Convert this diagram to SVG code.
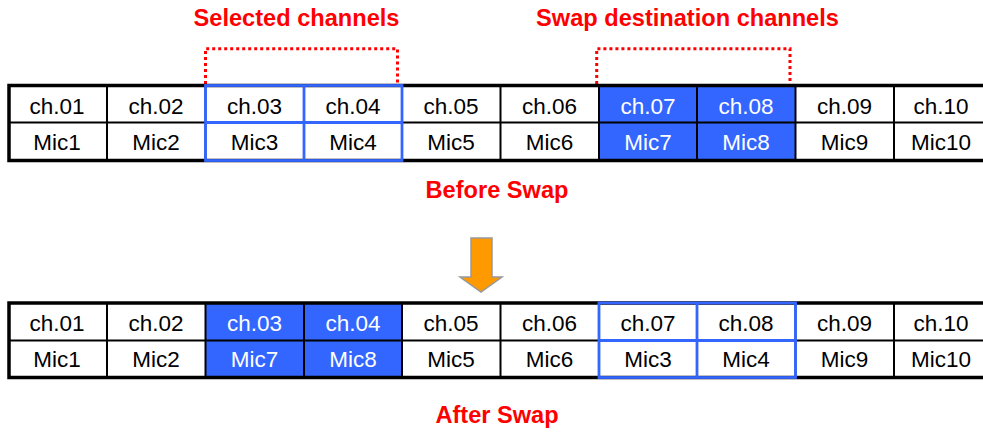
<svg xmlns="http://www.w3.org/2000/svg" width="983" height="432" viewBox="0 0 983 432">
<style>
.t{font-family:"Liberation Sans",Arial,sans-serif;font-size:22.5px;text-anchor:middle;fill:#000}
.w{fill:#fff}
.h{font-family:"Liberation Sans",Arial,sans-serif;font-size:23.6px;font-weight:bold;text-anchor:middle;fill:#ff0000}
.grid{stroke:#000;stroke-width:2;fill:none}
.outer{stroke:#000;stroke-width:3.5;fill:none}
.blue{stroke:#3366ff;stroke-width:2.8;fill:none}
.fill{fill:#3366ff}
.dot{stroke:#ff0000;stroke-width:3;stroke-dasharray:3 3;fill:none}
</style>
<rect width="983" height="432" fill="#fff"/>

<g id="labels">
<text class="h" x="296.5" y="26">Selected channels</text>
<text class="h" x="687.5" y="26">Swap destination channels</text>
<text class="h" x="497" y="198">Before Swap</text>
<text class="h" x="497" y="423">After Swap</text>
</g>

<g id="brackets">
<polyline class="dot" points="205.5,84 205.5,48.7 397.5,48.7 397.5,84"/>
<polyline class="dot" points="596.7,84 596.7,48.7 790,48.7 790,84"/>
</g>

<g id="table-before">
<rect class="fill" x="599" y="85.5" width="196.5" height="75"/>
<g class="grid">
<line x1="9" y1="122.5" x2="992" y2="122.5"/>
<line x1="107" y1="85.5" x2="107" y2="160.5"/>
<line x1="205.5" y1="85.5" x2="205.5" y2="160.5"/>
<line x1="304" y1="85.5" x2="304" y2="160.5"/>
<line x1="402" y1="85.5" x2="402" y2="160.5"/>
<line x1="500.5" y1="85.5" x2="500.5" y2="160.5"/>
<line x1="599" y1="85.5" x2="599" y2="160.5"/>
<line x1="697" y1="85.5" x2="697" y2="160.5"/>
<line x1="795.5" y1="85.5" x2="795.5" y2="160.5"/>
<line x1="894" y1="85.5" x2="894" y2="160.5"/>
</g>
<rect class="outer" x="9" y="85.5" width="990" height="75"/>
<g class="blue">
<rect x="205.5" y="85.5" width="196.5" height="75"/>
<line x1="304" y1="85.5" x2="304" y2="160.5"/>
<line x1="205.5" y1="122.5" x2="402" y2="122.5"/>
</g>
<g id="b-ch01"><text class="t" x="57" y="114">ch.01</text><text class="t" x="57" y="150">Mic1</text></g>
<g id="b-ch02"><text class="t" x="156" y="114">ch.02</text><text class="t" x="156" y="150">Mic2</text></g>
<g id="b-ch03"><text class="t" x="254.5" y="114">ch.03</text><text class="t" x="254.5" y="150">Mic3</text></g>
<g id="b-ch04"><text class="t" x="353" y="114">ch.04</text><text class="t" x="353" y="150">Mic4</text></g>
<g id="b-ch05"><text class="t" x="451" y="114">ch.05</text><text class="t" x="451" y="150">Mic5</text></g>
<g id="b-ch06"><text class="t" x="549.5" y="114">ch.06</text><text class="t" x="549.5" y="150">Mic6</text></g>
<g id="b-ch07"><text class="t w" x="648" y="114">ch.07</text><text class="t w" x="648" y="150">Mic7</text></g>
<g id="b-ch08"><text class="t w" x="746" y="114">ch.08</text><text class="t w" x="746" y="150">Mic8</text></g>
<g id="b-ch09"><text class="t" x="844.5" y="114">ch.09</text><text class="t" x="844.5" y="150">Mic9</text></g>
<g id="b-ch10"><text class="t" x="941" y="114">ch.10</text><text class="t" x="941" y="150">Mic10</text></g>
</g>

<g id="arrow">
<polygon points="471,238 492,238 492,277 502,277 481,292 460,277 471,277" fill="#ff9900" stroke="#999" stroke-width="1.5"/>
</g>

<g id="table-after">
<rect class="fill" x="205.5" y="303" width="196.5" height="74.5"/>
<g class="grid">
<line x1="9" y1="340.5" x2="992" y2="340.5"/>
<line x1="107" y1="303" x2="107" y2="377.5"/>
<line x1="205.5" y1="303" x2="205.5" y2="377.5"/>
<line x1="304" y1="303" x2="304" y2="377.5"/>
<line x1="402" y1="303" x2="402" y2="377.5"/>
<line x1="500.5" y1="303" x2="500.5" y2="377.5"/>
<line x1="599" y1="303" x2="599" y2="377.5"/>
<line x1="697" y1="303" x2="697" y2="377.5"/>
<line x1="795.5" y1="303" x2="795.5" y2="377.5"/>
<line x1="894" y1="303" x2="894" y2="377.5"/>
</g>
<rect class="outer" x="9" y="303" width="990" height="74.5"/>
<g class="blue">
<rect x="599" y="303" width="196.5" height="74.5"/>
<line x1="697" y1="303" x2="697" y2="377.5"/>
<line x1="599" y1="340.5" x2="795.5" y2="340.5"/>
</g>
<g id="a-ch01"><text class="t" x="57" y="331">ch.01</text><text class="t" x="57" y="367">Mic1</text></g>
<g id="a-ch02"><text class="t" x="156" y="331">ch.02</text><text class="t" x="156" y="367">Mic2</text></g>
<g id="a-ch03"><text class="t w" x="254.5" y="331">ch.03</text><text class="t w" x="254.5" y="367">Mic7</text></g>
<g id="a-ch04"><text class="t w" x="353" y="331">ch.04</text><text class="t w" x="353" y="367">Mic8</text></g>
<g id="a-ch05"><text class="t" x="451" y="331">ch.05</text><text class="t" x="451" y="367">Mic5</text></g>
<g id="a-ch06"><text class="t" x="549.5" y="331">ch.06</text><text class="t" x="549.5" y="367">Mic6</text></g>
<g id="a-ch07"><text class="t" x="648" y="331">ch.07</text><text class="t" x="648" y="367">Mic3</text></g>
<g id="a-ch08"><text class="t" x="746" y="331">ch.08</text><text class="t" x="746" y="367">Mic4</text></g>
<g id="a-ch09"><text class="t" x="844.5" y="331">ch.09</text><text class="t" x="844.5" y="367">Mic9</text></g>
<g id="a-ch10"><text class="t" x="941" y="331">ch.10</text><text class="t" x="941" y="367">Mic10</text></g>
</g>
</svg>
